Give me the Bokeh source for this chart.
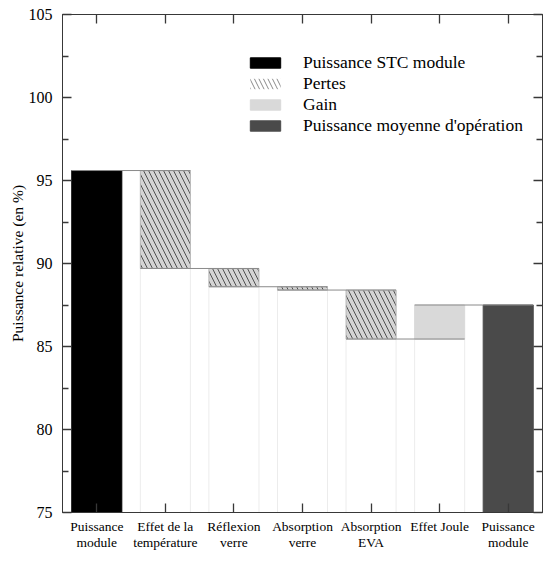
from bokeh.plotting import figure
from bokeh.models import Range1d, LinearAxis, FixedTicker, Legend, LegendItem
from bokeh.embed import file_html
from bokeh.resources import INLINE

categories = ["Puissance\nmodule", "Effet de la\ntempérature", "Réflexion\nverre",
              "Absorption\nverre", "Absorption\nEVA", "Effet Joule", "Puissance\nmodule"]
levels = [95.6, 89.7, 88.6, 88.4, 85.45, 87.5, 87.5]
kinds = ["stc", "perte", "perte", "perte", "perte", "gain", "moyenne"]
y_ticks = [75, 80, 85, 90, 95, 100, 105]
y_minor = [77.5, 82.5, 87.5, 92.5, 97.5, 102.5]
legend_labels = ["Puissance STC module", "Pertes", "Gain", "Puissance moyenne d'opération"]

FONT = "'Liberation Serif', serif"
W = 0.73
BASE = 75

xs = list(range(1, len(categories) + 1))

p = figure(width=544, height=553, output_backend="svg", toolbar_location=None,
           x_range=Range1d(0.5, 7.5), y_range=Range1d(75, 105),
           min_border_left=62, min_border_right=2, min_border_top=14, min_border_bottom=37)
p.xgrid.visible = False
p.ygrid.visible = False
p.outline_line_color = "#404040"
p.outline_line_width = 1
p.background_fill_color = "white"
p.border_fill_color = "white"

# white base bars (invisible support of the waterfall)
bx, bt = [], []
for i, k in enumerate(kinds):
    if k in ("perte", "gain"):
        bx.append(xs[i]); bt.append(min(levels[i - 1], levels[i]))
p.vbar(x=bx, top=bt, bottom=BASE, width=W, fill_color="white", line_color="#ececec", line_width=1)

# STC bar
sx = [xs[i] for i, k in enumerate(kinds) if k == "stc"]
st = [levels[i] for i, k in enumerate(kinds) if k == "stc"]
r_stc = p.vbar(x=sx, top=st, bottom=BASE, width=W, fill_color="black", line_color="black")

# losses
px_, pt, pb = [], [], []
for i, k in enumerate(kinds):
    if k == "perte":
        px_.append(xs[i]); pt.append(levels[i - 1]); pb.append(levels[i])
# legend proxy for losses (white + hatch), hidden beneath the real bars
r_pert_leg = p.vbar(x=px_, top=pt, bottom=pb, width=W, fill_color="white",
                    line_alpha=0, hatch_pattern="\\", hatch_color="#8a8a8a",
                    hatch_scale=9, hatch_weight=1)
p.vbar(x=px_, top=pt, bottom=pb, width=W, fill_color="#d4d4d4", line_color="#b8b8b8",
       hatch_pattern="\\", hatch_color="#505050", hatch_scale=10, hatch_weight=1)

# gain
gx, gt, gb = [], [], []
for i, k in enumerate(kinds):
    if k == "gain":
        gx.append(xs[i]); gt.append(levels[i]); gb.append(levels[i - 1])
r_gain = p.vbar(x=gx, top=gt, bottom=gb, width=W, fill_color="#d9d9d9", line_color="#d9d9d9")

# average operating power
mx = [xs[i] for i, k in enumerate(kinds) if k == "moyenne"]
mt = [levels[i] for i, k in enumerate(kinds) if k == "moyenne"]
r_moy = p.vbar(x=mx, top=mt, bottom=BASE, width=W, fill_color="#4a4a4a", line_color="#4a4a4a")

# connector lines
cx0 = [xs[i] - W / 2 for i in range(len(levels) - 1)]
cx1 = [xs[i + 1] + W / 2 for i in range(len(levels) - 1)]
cy = levels[:-1]
p.segment(x0=cx0, x1=cx1, y0=cy, y1=cy, line_color="#8a8a8a", line_width=1)

legend = Legend(items=[
    LegendItem(label=legend_labels[0], renderers=[r_stc]),
    LegendItem(label=legend_labels[1], renderers=[r_pert_leg]),
    LegendItem(label=legend_labels[2], renderers=[r_gain]),
    LegendItem(label=legend_labels[3], renderers=[r_moy]),
], location=(184, 376))
legend.border_line_alpha = 0
legend.background_fill_alpha = 0
legend.padding = 0
legend.margin = 0
legend.spacing = 0
legend.glyph_width = 38
legend.glyph_height = 13
legend.label_height = 19
legend.label_standoff = 19
legend.label_text_font = FONT
legend.label_text_font_size = "17.5px"
legend.label_text_color = "black"
legend.label_text_baseline = "middle"
p.add_layout(legend, "center")

AX = "#383838"

def style(ax):
    ax.axis_line_color = AX
    ax.major_tick_line_color = AX
    ax.minor_tick_line_color = AX
    ax.major_tick_line_width = 1.3
    ax.minor_tick_line_width = 1.3
    ax.major_tick_out = 0
    ax.minor_tick_out = 0
    ax.major_tick_in = 9
    ax.minor_tick_in = 6
    ax.major_label_text_font = FONT
    ax.major_label_text_color = "black"

yl = p.yaxis[0]
yl.ticker = FixedTicker(ticks=y_ticks, minor_ticks=y_minor)
style(yl)
yl.major_label_text_font_size = "16px"
yl.major_label_standoff = 10
yl.axis_label = "Puissance relative (en %)"
yl.axis_label_text_font = FONT
yl.axis_label_text_font_size = "15.5px"
yl.axis_label_text_font_style = "normal"
yl.axis_label_text_color = "black"
yl.axis_label_standoff = 0

xb = p.xaxis[0]
xb.ticker = FixedTicker(ticks=xs, minor_ticks=[])
style(xb)
xb.major_label_overrides = {x: c for x, c in zip(xs, categories)}
xb.major_label_text_font_size = "13.5px"
xb.major_label_text_line_height = 1.1
xb.major_label_standoff = 6

yr = LinearAxis(ticker=FixedTicker(ticks=y_ticks, minor_ticks=y_minor))
style(yr)
yr.major_label_overrides = {t: "" for t in y_ticks}
yr.major_label_text_font_size = "0px"
yr.major_label_standoff = 0
p.add_layout(yr, "right")

xt = LinearAxis(ticker=FixedTicker(ticks=xs, minor_ticks=[]))
style(xt)
xt.major_label_overrides = {x: "" for x in xs}
xt.major_label_text_font_size = "0px"
xt.major_label_standoff = 0
p.add_layout(xt, "above")

open("out.html", "w").write(file_html(p, INLINE))
